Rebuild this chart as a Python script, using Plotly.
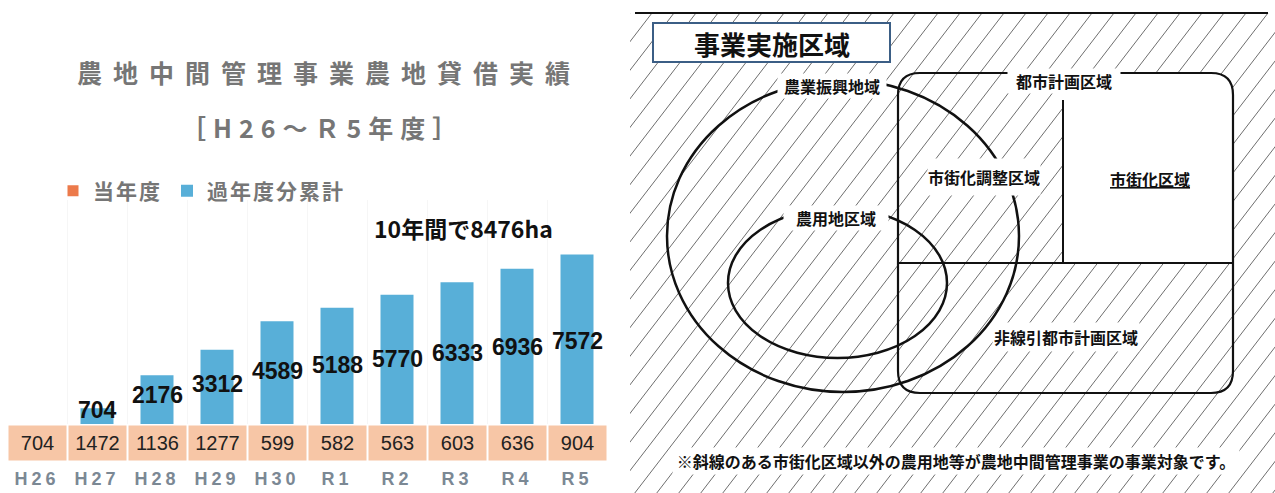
import plotly.graph_objects as go

# ---------------- data ----------------
years = ["H26", "H27", "H28", "H29", "H30", "R1", "R2", "R3", "R4", "R5"]
current_year_ha = [704, 1472, 1136, 1277, 599, 582, 563, 603, 636, 904]      # 当年度
prior_cumulative_ha = [0, 704, 2176, 3312, 4589, 5188, 5770, 6333, 6936, 7572]  # 過年度分累計
series_names = ["当年度", "過年度分累計"]
total_ha = sum(current_year_ha)

# ---------------- styling ----------------
W, H = 1275, 493
JP = "Noto Sans CJK JP"
NUM = "Liberation Sans"
ORANGE_BOX = "#f7c6a6"
ORANGE_KEY = "#ec7a4b"
BLUE = "#58afd8"
TITLE_GREY = "#767676"
TICK_GREY = "#7b8894"


def py(y_px):
    """pixel row -> paper fraction"""
    return (H - y_px) / H


def spaced(text, px):
    return f'<span style="letter-spacing:{px}px">{text}</span>'


fig = go.Figure()

# legend key for 当年度 (values are drawn as labelled boxes below the bars)
fig.add_trace(go.Scatter(
    x=[None], y=[None], mode="markers", name=spaced(series_names[0], 2),
    marker=dict(symbol="square", size=11, color=ORANGE_KEY),
    hoverinfo="skip"))

fig.add_trace(go.Bar(
    x=years, y=prior_cumulative_ha, name=spaced(series_names[1], 2),
    marker=dict(color=BLUE, line_width=0), hoverinfo="x+y"))

annotations = []
# 当年度 value boxes
for yr, v in zip(years, current_year_ha):
    annotations.append(dict(
        x=yr, xref="x", y=py(443), yref="paper", text=str(v), showarrow=False,
        font=dict(family=NUM, size=20, color="#222222"),
        bgcolor=ORANGE_BOX, width=55, height=32, borderpad=1,
        xanchor="center", yanchor="middle"))
# 過年度分累計 value labels
for yr, v in zip(years, prior_cumulative_ha):
    if v <= 0:
        continue
    annotations.append(dict(
        x=yr, xref="x", y=v * 0.45 + 300, yref="y", text=str(v), showarrow=False,
        font=dict(family=NUM, size=23, color="#111111", weight="bold"),
        xanchor="center", yanchor="middle"))

# chart titles
annotations += [
    dict(x=75 / W, y=py(72), xref="paper", yref="paper", xanchor="left", yanchor="middle",
         showarrow=False, text=spaced("農地中間管理事業農地貸借実績", 11),
         font=dict(family=JP, size=25, color=TITLE_GREY, weight="bold")),
    dict(x=322 / W, y=py(127), xref="paper", yref="paper", xanchor="center", yanchor="middle",
         showarrow=False, text=spaced("［H26～Ｒ5年度］", 7),
         font=dict(family=JP, size=25, color=TITLE_GREY, weight="bold")),
    dict(x=372 / W, y=py(228), xref="paper", yref="paper", xanchor="left", yanchor="middle",
         showarrow=False, text=f"10年間で{total_ha}ha",
         font=dict(family=JP, size=23, color="#111111", weight="bold")),
]

# ---------------- right panel : 事業実施区域 diagram ----------------
slope, spacing, top, bottom = 1.3, 22, 13, 493
hx, hy = [], []
run = (bottom - top) / slope
c = 630 - run
while c < W + spacing:
    hx += [c, c + run, None]
    hy += [bottom, top, None]
    c += spacing
fig.add_trace(go.Scatter(x=hx, y=hy, mode="lines", xaxis="x2", yaxis="y2",
                         line=dict(color="#6e6e6e", width=1), showlegend=False,
                         hoverinfo="skip"))

shapes = [
    # top rule
    dict(type="line", xref="paper", yref="paper", x0=635 / W, x1=1268 / W,
         y0=py(13), y1=py(13), line=dict(color="#111111", width=2)),
    # 市街化区域 (not hatched)
    dict(type="path", xref="x2", yref="y2",
         path="M1063,73 L1211,73 Q1233,73 1233,95 L1233,263 L1063,263 Z",
         fillcolor="white", line=dict(width=0)),
    # 都市計画区域 rounded rectangle
    dict(type="path", xref="x2", yref="y2",
         path=("M898,95 Q898,73 920,73 L1211,73 Q1233,73 1233,95 L1233,371 "
               "Q1233,393 1211,393 L920,393 Q898,393 898,371 Z"),
         fillcolor="rgba(0,0,0,0)", line=dict(color="#111111", width=2.2)),
    dict(type="line", xref="x2", yref="y2", x0=1063, x1=1063, y0=100, y1=263,
         line=dict(color="#111111", width=2)),
    dict(type="line", xref="x2", yref="y2", x0=898, x1=1233, y0=263, y1=263,
         line=dict(color="#111111", width=2)),
    # 農業振興地域
    dict(type="circle", xref="x2", yref="y2", x0=667, x1=1019, y0=80, y1=392,
         line=dict(color="#111111", width=2.5)),
    # 農用地区域
    dict(type="circle", xref="x2", yref="y2", x0=728, x1=947, y0=208, y1=358,
         line=dict(color="#111111", width=2.5)),
    # title box
    dict(type="rect", xref="x2", yref="y2", x0=653, x1=890, y0=23, y1=62,
         fillcolor="white", line=dict(color="#3b5e85", width=2)),
]

diagram_labels = [
    # text, x, y, font size, box width, box height
    ("事業実施区域", 772, 43, 26, None, None),
    ("農業振興地域", 832, 86, 16, 108, 24),
    ("都市計画区域", 1064, 81, 16, 112, 24),
    ("市街化調整区域", 984, 177, 16, 112, 36),
    ("農用地区域", 836, 218, 16, 104, 24),
    ('<span style="text-decoration:underline">市街化区域</span>', 1150, 179, 16, None, None),
    ("非線引都市計画区域", 1066, 337, 16, 146, 28),
    ("※斜線のある市街化区域以外の農用地等が農地中間管理事業の事業対象です。", 956, 461, 16, 566, 26),
]
for text, x, y, size, bw, bh in diagram_labels:
    a = dict(x=x, y=y, xref="x2", yref="y2", text=text, showarrow=False,
             xanchor="center", yanchor="middle",
             font=dict(family=JP, size=size, color="#111111", weight="bold"))
    if bw:
        a.update(bgcolor="white", width=bw, height=bh, borderpad=0)
    annotations.append(a)

fig.update_layout(
    width=W, height=H, autosize=False,
    margin=dict(l=0, r=0, t=0, b=0),
    paper_bgcolor="white", plot_bgcolor="rgba(0,0,0,0)",
    bargap=0.45, showlegend=True,
    legend=dict(orientation="h", x=53 / W, y=py(191), xanchor="left", yanchor="middle",
                font=dict(family=JP, size=21, color=TITLE_GREY, weight="bold"),
                bgcolor="rgba(0,0,0,0)", borderwidth=0, itemclick=False,
                itemdoubleclick=False),
    xaxis=dict(domain=[7 / W, 607 / W], type="category", anchor="free", position=py(466),
               showline=False, ticks="", zeroline=False, showgrid=True,
               tickson="boundaries", gridcolor="#f6f6f6",
               tickmode="array", tickvals=years,
               ticktext=[spaced(t, 4) for t in years],
               tickfont=dict(family=NUM, size=18, color=TICK_GREY, weight="bold")),
    yaxis=dict(domain=[py(424), py(200)], range=[0, 10000], visible=False),
    xaxis2=dict(domain=[630 / W, 1], range=[630, W], visible=False, anchor="y2"),
    yaxis2=dict(domain=[0, py(13)], range=[bottom, top], visible=False, anchor="x2"),
    shapes=shapes, annotations=annotations,
)

fig.write_html("out.html")
